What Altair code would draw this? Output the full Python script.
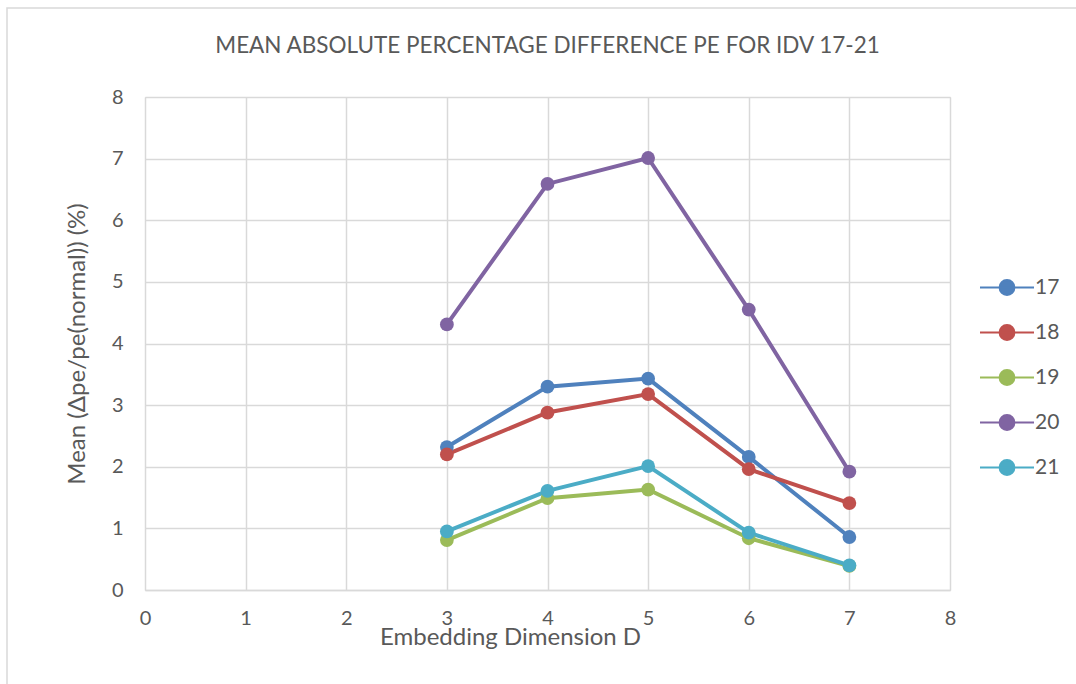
import altair as alt
import pandas as pd

# Embedding dimension D on the x axis
dims = [3, 4, 5, 6, 7]

# Mean absolute percentage difference of PE per IDV fault
idv_17 = [2.32, 3.30, 3.43, 2.16, 0.86]
idv_18 = [2.20, 2.88, 3.18, 1.96, 1.41]
idv_19 = [0.81, 1.49, 1.63, 0.84, 0.39]
idv_20 = [4.31, 6.59, 7.01, 4.55, 1.92]
idv_21 = [0.95, 1.61, 2.01, 0.93, 0.40]

series_names = ["17", "18", "19", "20", "21"]
series_values = [idv_17, idv_18, idv_19, idv_20, idv_21]
series_colors = ["#4F81BD", "#C0504D", "#9BBB59", "#8064A2", "#4BACC6"]

x_ticks = list(range(0, 9))
y_ticks = list(range(0, 9))

rows = []
for name, vals in zip(series_names, series_values):
    for d, v in zip(dims, vals):
        rows.append({"D": d, "value": v, "IDV": name})
df = pd.DataFrame(rows)

FONT = "Lato"
TEXT = "#595959"
GRID = "#D9D9D9"

# line + dot legend glyph, drawn left of the symbol slot so labels sit close
legend_glyph = (
    "M-3,0 L1,0 "
    "M-1.55,0 A0.55,0.55 0 1,1 -0.45,0 A0.55,0.55 0 1,1 -1.55,0 Z"
)

color_scale = alt.Scale(domain=series_names, range=series_colors)

color = alt.Color(
    "IDV:N",
    scale=color_scale,
    legend=alt.Legend(
        title=None,
        orient="none",
        legendX=861,
        legendY=176,
        symbolType=legend_glyph,
        symbolSize=729,
        symbolStrokeWidth=2,
        rowPadding=19,
        labelOffset=0,
        labelFont=FONT,
        labelFontSize=21,
        labelColor=TEXT,
        padding=0,
    ),
)

x_enc = alt.X(
    "D:Q",
    scale=alt.Scale(domain=[0, 8], nice=False),
    axis=alt.Axis(
        values=x_ticks,
        format="d",
        title="Embedding Dimension D",
        titleFont=FONT,
        titleFontSize=24,
        titleFontWeight="normal",
        titleColor=TEXT,
        titleX=365,
        titleY=47,
        titleBaseline="middle",
        labelFont=FONT,
        labelFontSize=20,
        labelColor=TEXT,
        labelPadding=18,
        labelFlush=False,
        ticks=False,
        domainColor=GRID,
        domainWidth=1.5,
        gridColor=GRID,
        gridWidth=1.5,
    ),
)

y_enc = alt.Y(
    "value:Q",
    scale=alt.Scale(domain=[0, 8], nice=False),
    axis=alt.Axis(
        values=y_ticks,
        format="d",
        title="Mean (Δpe/pe(normal)) (%)",
        titleFont=FONT,
        titleFontSize=24,
        titleFontWeight="normal",
        titleColor=TEXT,
        titlePadding=22,
        labelFont=FONT,
        labelFontSize=20,
        labelColor=TEXT,
        labelPadding=22,
        labelFlush=False,
        ticks=False,
        domain=False,
        gridColor=GRID,
        gridWidth=1.5,
    ),
)

lines = alt.Chart(df).mark_line(strokeWidth=4).encode(
    x=x_enc, y=y_enc, color=color, order="D:Q"
)
dots = alt.Chart(df).mark_circle(size=190, opacity=1).encode(
    x="D:Q", y="value:Q", color=alt.Color("IDV:N", legend=None, scale=color_scale)
)

# outer frame around the whole chart
frame = alt.Chart(pd.DataFrame({"k": [0]})).mark_rect(
    fill=None, stroke=GRID, strokeWidth=1.5
).encode(
    x=alt.value(-138), x2=alt.value(945), y=alt.value(-89), y2=alt.value(600)
)

chart = (
    alt.layer(frame, lines, dots)
    .properties(
        width=805,
        height=493,
        autosize=alt.AutoSizeParams(type="none"),
        padding={"left": 145, "top": 97, "right": 126, "bottom": 94},
        title=alt.Title(
            "MEAN ABSOLUTE PERCENTAGE DIFFERENCE PE FOR IDV 17-21",
            font=FONT,
            fontSize=22.5,
            fontWeight="normal",
            color=TEXT,
            offset=-50,
        ),
    )
    .configure_view(stroke=None)
    .configure(background="white")
)

chart.save("out.html", embed_options={"renderer": "svg", "actions": False})
